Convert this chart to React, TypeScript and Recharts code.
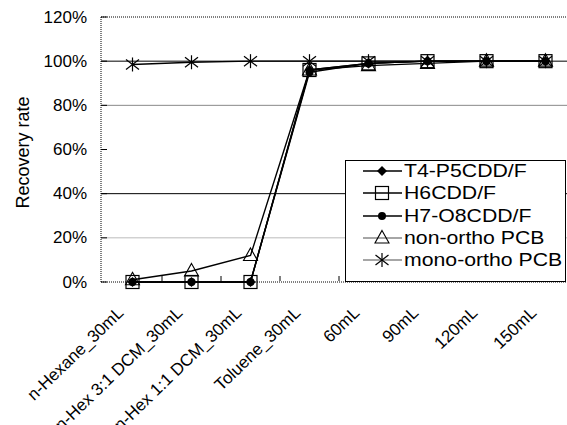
import { LineChart, Line, XAxis, YAxis, ReferenceLine, Legend } from "recharts";

const categories = [
  "n-Hexane_30mL",
  "n-Hex 3:1 DCM_30mL",
  "n-Hex 1:1 DCM_30mL",
  "Toluene_30mL",
  "60mL",
  "90mL",
  "120mL",
  "150mL",
];

// recovery rate in %
const t4p5cdd = [0, 0, 0, 96, 99, 100, 100, 100];
const h6cdd = [0, 0, 0, 96, 99, 100, 100, 100];
const h7o8cdd = [0, 0, 0, 95, 99, 100, 100, 100];
const nonOrthoPcb = [1, 5, 12, 96, 98, 99, 100, 100];
const monoOrthoPcb = [98.5, 99.5, 100, 100, 100, 100, 100, 100];

const yTicks = [0, 0.2, 0.4, 0.6, 0.8, 1.0, 1.2];

const series = [
  { key: "t4", name: "T4-P5CDD/F", values: t4p5cdd, shape: "diamond", legendColor: "#000" },
  { key: "h6", name: "H6CDD/F", values: h6cdd, shape: "square", legendColor: "#000" },
  { key: "h7", name: "H7-O8CDD/F", values: h7o8cdd, shape: "circle", legendColor: "#000" },
  { key: "non", name: "non-ortho PCB", values: nonOrthoPcb, shape: "triangle", legendColor: "#888" },
  { key: "mono", name: "mono-ortho PCB", values: monoOrthoPcb, shape: "star", legendColor: "#888" },
];

const data = categories.map((name, i) => {
  const row: Record<string, number | string> = { name };
  series.forEach((s) => {
    row[s.key] = s.values[i] / 100;
  });
  return row;
});

const FONT = "'Liberation Sans', Arial, sans-serif";

function Marker({ shape, cx, cy }: { shape: string; cx: number; cy: number }) {
  if (cx == null || cy == null) return null;
  switch (shape) {
    case "diamond":
      return <path d={`M${cx},${cy - 5}L${cx + 5},${cy}L${cx},${cy + 5}L${cx - 5},${cy}Z`} fill="#000" />;
    case "square":
      return <rect x={cx - 6.5} y={cy - 6.5} width={13} height={13} fill="none" stroke="#000" strokeWidth={1.2} />;
    case "circle":
      return <circle cx={cx} cy={cy} r={4} fill="#000" />;
    case "triangle":
      return (
        <path
          d={`M${cx},${cy - 7.5}L${cx + 7},${cy + 5}L${cx - 7},${cy + 5}Z`}
          fill="none"
          stroke="#000"
          strokeWidth={1.1}
        />
      );
    case "star":
      return (
        <g stroke="#000" strokeWidth={1.2}>
          <line x1={cx} y1={cy - 7} x2={cx} y2={cy + 7} />
          <line x1={cx - 6.5} y1={cy - 5} x2={cx + 6.5} y2={cy + 5} />
          <line x1={cx - 6.5} y1={cy + 5} x2={cx + 6.5} y2={cy - 5} />
        </g>
      );
    default:
      return null;
  }
}

const YTick = (props: any) => {
  const { x, y, payload } = props;
  return (
    <text x={x} y={y} textAnchor="end" dominantBaseline="central" fontSize={17} fontFamily={FONT} fill="#000">
      {Math.round(payload.value * 100)}%
    </text>
  );
};

const XTick = (props: any) => {
  const { x, y, payload } = props;
  const half = payload.offset || 29.5;
  return (
    <g>
      <line x1={x + half} y1={y - 3} x2={x + half} y2={y - 8} stroke="#000" />
      <text
        x={x - 8}
        y={y + 30}
        textAnchor="end"
        fontSize={17}
        fontFamily={FONT}
        fill="#000"
        transform={`rotate(-44, ${x - 8}, ${y + 30})`}
      >
        {payload.value}
      </text>
    </g>
  );
};

const LegendBox = () => (
  <div
    style={{
      width: 221,
      height: 122,
      border: "1px solid #000",
      background: "#fff",
      boxSizing: "border-box",
    }}
  >
    <div style={{ marginTop: -1 }}>
      {series.map((s) => (
        <div key={s.key} style={{ display: "flex", alignItems: "center", height: 22.3 }}>
          <svg width={58} height={22} style={{ flexShrink: 0 }}>
            <line x1={17} y1={11} x2={56} y2={11} stroke={s.legendColor} strokeWidth={1.3} />
            <Marker shape={s.shape} cx={36} cy={11} />
          </svg>
          <span
            style={{
              fontFamily: FONT,
              fontSize: 18,
              color: "#000",
              whiteSpace: "nowrap",
              lineHeight: "22px",
              display: "inline-block",
              transform: "scaleX(1.18)",
              transformOrigin: "left center",
            }}
          >
            {s.name}
          </span>
        </div>
      ))}
    </div>
  </div>
);

export default function App() {
  return (
    <div style={{ position: "absolute", left: 0, top: 0, width: 567, height: 425, overflow: "hidden", background: "#fff" }}>
      <LineChart width={582} height={425} data={data} margin={{ top: 17, right: 7, left: 0, bottom: 13 }}>
        <XAxis
          dataKey="name"
          scale="band"
          interval={0}
          height={130}
          tick={<XTick />}
          tickLine={false}
          tickSize={0}
          padding={{ left: 2, right: 0 }}
          axisLine={{ stroke: "#000", strokeDasharray: "1 1" }}
        />
        <YAxis
          domain={[0, 1.2]}
          ticks={yTicks}
          width={101}
          tickSize={-6}
          tickMargin={20}
          tickLine={{ stroke: "#000" }}
          tick={<YTick />}
          axisLine={{ stroke: "#000", strokeDasharray: "1 1" }}
          label={{
            content: (p: any) => {
              const vb = p.viewBox;
              const cx = vb.x + 23;
              const cy = vb.y + vb.height / 2 + 3;
              return (
                <text
                  x={cx}
                  y={cy}
                  textAnchor="middle"
                  dominantBaseline="central"
                  fontSize={18}
                  fontFamily={FONT}
                  transform={`rotate(-90, ${cx}, ${cy})`}
                >
                  Recovery rate
                </text>
              );
            },
          }}
        />
        <ReferenceLine y={0.2} stroke="#bbb" />
        <ReferenceLine y={0.4} stroke="#000" />
        <ReferenceLine y={0.8} stroke="#888" />
        <ReferenceLine y={1.0} stroke="#000" />
        <ReferenceLine y={1.2} stroke="#000" strokeDasharray="1 1" />
        {series.map((s) => (
          <Line
            key={s.key}
            dataKey={s.key}
            name={s.name}
            stroke="#000"
            strokeWidth={1.4}
            isAnimationActive={false}
            dot={(p: any) => <Marker key={`${s.key}-${p.index}`} shape={s.shape} cx={p.cx} cy={p.cy} />}
            activeDot={false}
          />
        ))}
        <Legend
          layout="vertical"
          align="center"
          verticalAlign="middle"
          content={() => <LegendBox />}
          wrapperStyle={{ position: "absolute", left: 345, top: 160, width: 221, height: 122 }}
        />
      </LineChart>
    </div>
  );
}
